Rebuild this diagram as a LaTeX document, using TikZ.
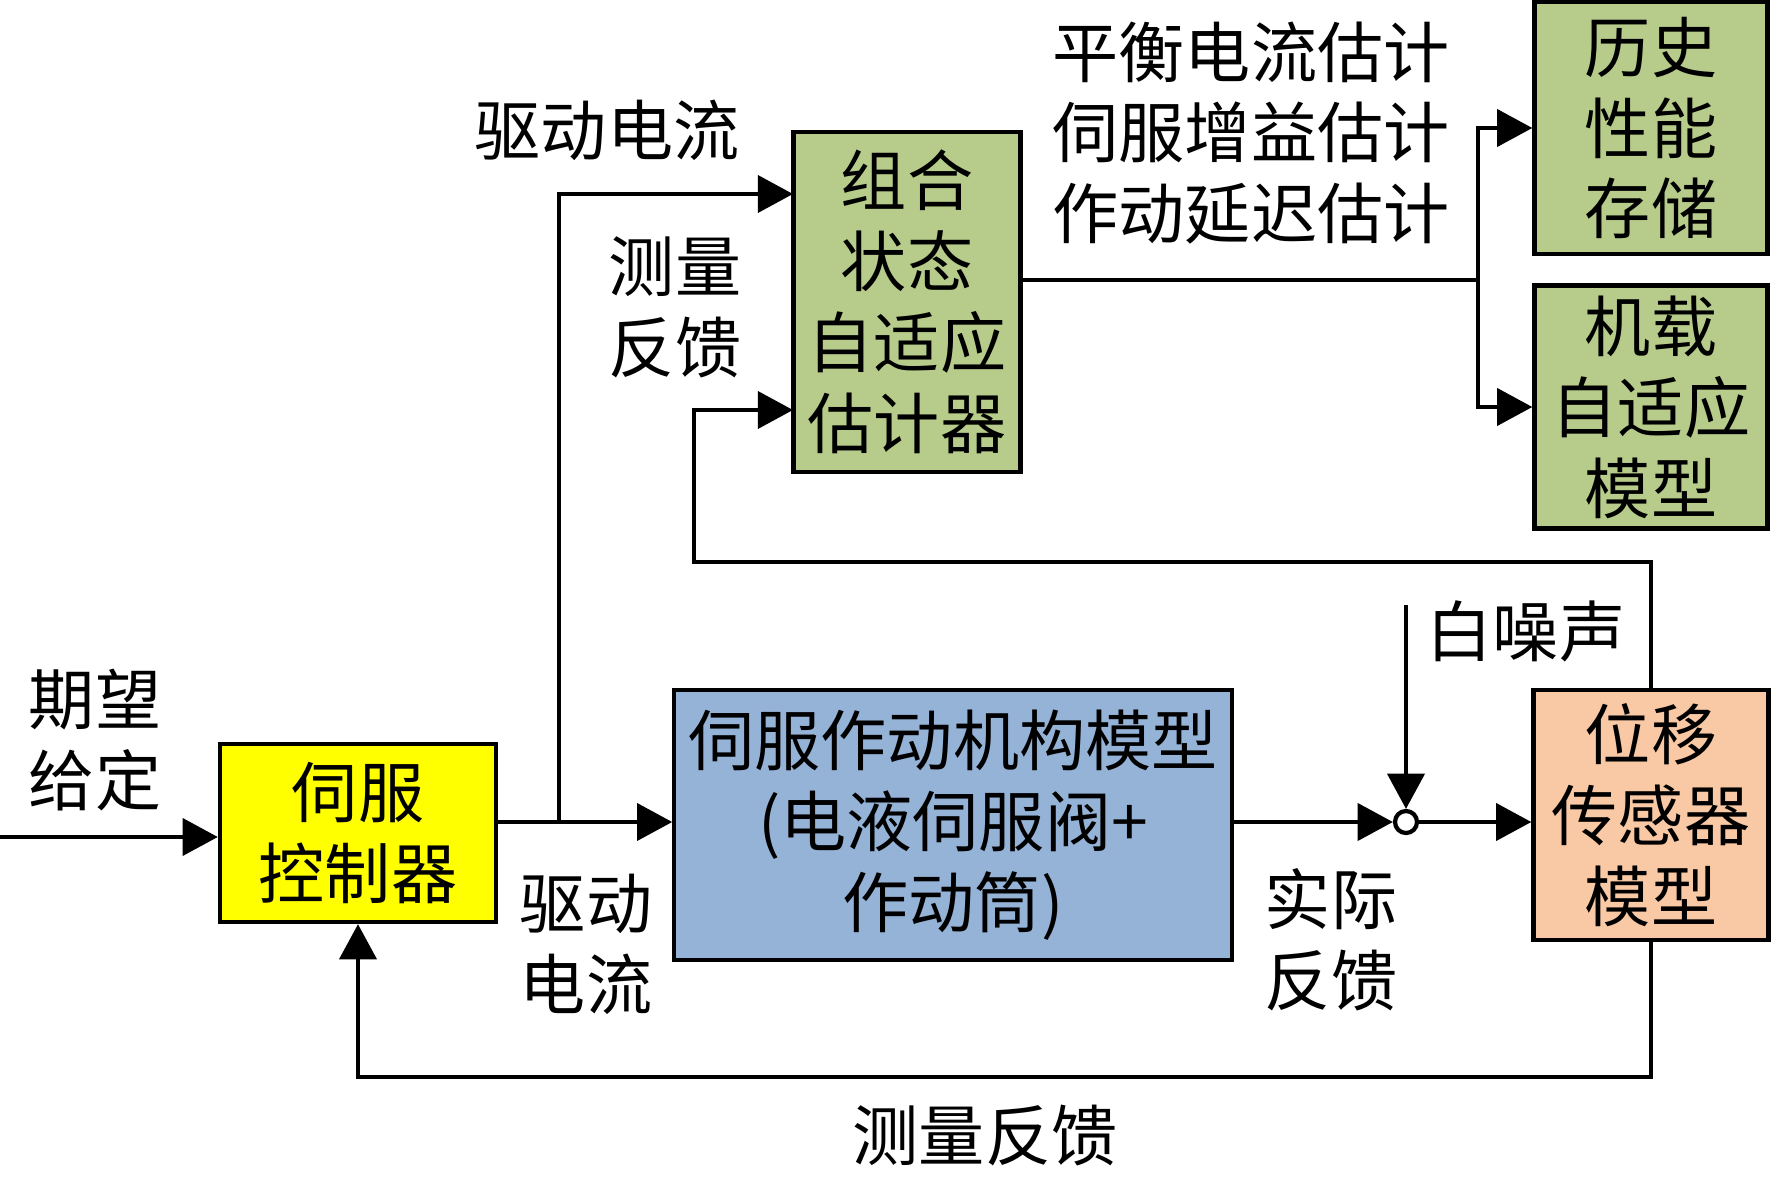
\documentclass[tikz,border=0pt]{standalone}
\usepackage{fontspec}
\setmainfont{Noto Sans CJK SC}
\usetikzlibrary{arrows.meta}

\definecolor{ctrlyellow}{RGB}{255,255,0}
\definecolor{plantblue}{RGB}{149,179,215}
\definecolor{estgreen}{RGB}{183,204,138}
\definecolor{sensorange}{RGB}{249,201,165}

\begin{document}
\begin{tikzpicture}[x=0.01cm, y=-0.01cm,
    font=\fontsize{18.8}{23}\selectfont,
    blk/.style={draw=black, line width=1.2pt, align=center, inner sep=0pt},
    sig/.style={line width=1.2pt, -{Triangle[length=10pt,width=10.5pt]}},
    lbl/.style={align=center}]
    \useasboundingbox (0,0) rectangle (1772,1179);

    % blocks
    \node[blk, fill=ctrlyellow, minimum width=2.76cm, minimum height=1.78cm] (ctrl) at (358,833) {伺服\\控制器};
    \node[blk, fill=plantblue, minimum width=5.57cm, minimum height=2.70cm] (plant) at (953,825)
        {伺服作动机构模型\\(电液伺服阀+\\作动筒)};
    \node[blk, fill=estgreen, minimum width=2.27cm, minimum height=3.40cm] (est) at (907,302)
        {组合\\状态\\自适应\\估计器};
    \node[blk, fill=estgreen, minimum width=2.33cm, minimum height=2.52cm] (hist) at (1651,128) {历史\\性能\\存储};
    \node[blk, fill=estgreen, minimum width=2.33cm, minimum height=2.43cm] (onb) at (1651,407) {机载\\自适应\\模型};
    \node[blk, fill=sensorange, minimum width=2.35cm, minimum height=2.50cm] (sens) at (1651,815) {位移\\传感器\\模型};
    \node[circle, draw, line width=1.2pt, fill=white, minimum size=0.22cm, inner sep=0pt] (sum) at (1406,822) {};

    % helper points
    \coordinate (in) at (0,837);
    \coordinate (split) at (559,822);
    \coordinate (estin1) at (793,194);
    \coordinate (estin2) at (793,410);
    \coordinate (fbt) at (694,562);
    \coordinate (fbb) at (1651,1077);
    \coordinate (fork) at (1478,280);
    \coordinate (noise) at (1406,605);

    % forward path
    \draw[sig] (in) -- (ctrl.west |- in);
    \draw[sig] (ctrl.east |- split) -- (plant.west |- split);
    \draw[sig] (split) |- (estin1);
    \draw[sig] (plant.east |- sum) -- (sum.west);
    \draw[sig] (noise) -- (sum.north);
    \draw[sig] (sum.east) -- (sens.west |- sum);

    % feedback paths
    \draw[sig] (sens.south) -- (fbb) -| (ctrl.south);
    \draw[sig] (sens.north) |- (fbt) |- (estin2);

    % estimator outputs
    \draw[line width=1.2pt] (est.east |- fork) -- (fork);
    \draw[sig] (fork) |- (hist.west);
    \draw[sig] (fork) |- (onb.west);

    % labels
    \node[lbl] (want) at (95,740) {期望\\给定};
    \node[lbl] (drive1) at (607,130) {驱动电流};
    \node[lbl] (meas1) at (675,307) {测量\\反馈};
    \node[lbl] (drive2) at (586,944) {驱动\\电流};
    \node[lbl, align=left] (estout) at (1251,133) {平衡电流估计\\伺服增益估计\\作动延迟估计};
    \node[lbl] (noiselbl) at (1526,631) {白噪声};
    \node[lbl] (act) at (1331,940) {实际\\反馈};
    \node[lbl] (meas2) at (985,1136) {测量反馈};
\end{tikzpicture}
\end{document}
